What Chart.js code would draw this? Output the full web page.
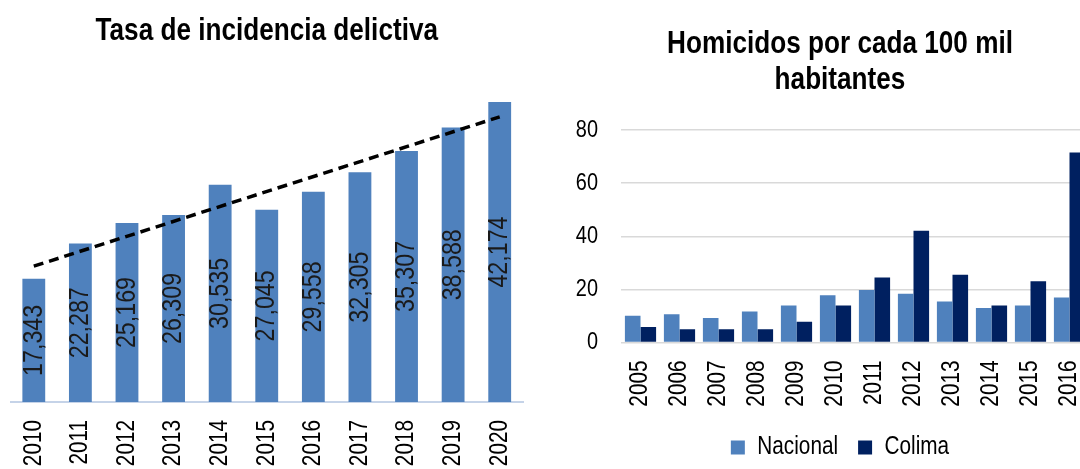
<!DOCTYPE html>
<html lang="es">
<head>
<meta charset="utf-8">
<title>Incidencia delictiva y homicidios</title>
<script src="https://cdn.jsdelivr.net/npm/chart.js@4.4.1/dist/chart.umd.min.js"></script>
<style>
  html, body { margin: 0; padding: 0; background: #fff; overflow: hidden; }
  #wrap { position: relative; width: 1080px; height: 469px; overflow: hidden; }
  #incidencia { position: absolute; left: 0; top: 0; }
  #homicidios { position: absolute; left: 555px; top: 0; }
</style>
</head>
<body>
<div id="wrap">
  <canvas id="incidencia" width="536" height="469"></canvas>
  <canvas id="homicidios" width="570" height="470"></canvas>
</div>
<script>
// Tasa de incidencia delictiva (por cada 100 mil habitantes)
const aniosIncidencia = ["2010", "2011", "2012", "2013", "2014", "2015", "2016", "2017", "2018", "2019", "2020"];
const incidencia = [17343, 22287, 25169, 26309, 30535, 27045, 29558, 32305, 35307, 38588, 42174];
// linea de tendencia: solo los extremos, el resto se une con spanGaps
const tendencia = [19100, null, null, null, null, null, null, null, null, null, 40100];

// Homicidios por cada 100 mil habitantes
const aniosHomicidios = ["2005", "2006", "2007", "2008", "2009", "2010", "2011", "2012", "2013", "2014", "2015", "2016"];
const nacional = [10.1, 10.6, 9.2, 11.7, 13.9, 17.8, 19.8, 18.4, 15.4, 13.0, 13.9, 16.9];
const colima = [5.8, 5.0, 5.0, 5.0, 7.8, 13.9, 24.5, 42.1, 25.5, 13.9, 23.1, 71.5];
const ticksHomicidios = [0, 20, 40, 60, 80];

const FUENTE = "'Liberation Sans', Arial, sans-serif";
Chart.defaults.font.family = FUENTE;
Chart.defaults.color = "#111";

// No hay Arial Narrow instalada: se comprime el texto en su propio eje
const ESTRECHO = 0.83;
function textoEstrecho(ctx) {
  const fill = ctx.fillText.bind(ctx);
  const measure = ctx.measureText.bind(ctx);
  ctx.fillText = function (text, x, y, maxWidth) {
    this.save();
    this.translate(x, y);
    this.scale(ESTRECHO, 1);
    if (maxWidth === undefined) fill(text, 0, 0);
    else fill(text, 0, 0, maxWidth / ESTRECHO);
    this.restore();
  };
  ctx.measureText = function (text) {
    const m = measure(text);
    return {
      width: m.width * ESTRECHO,
      actualBoundingBoxLeft: m.actualBoundingBoxLeft * ESTRECHO,
      actualBoundingBoxRight: m.actualBoundingBoxRight * ESTRECHO,
      actualBoundingBoxAscent: m.actualBoundingBoxAscent,
      actualBoundingBoxDescent: m.actualBoundingBoxDescent,
    };
  };
  return ctx;
}

// Sin relleno extra por las etiquetas de los extremos
function sinRelleno(scale) {
  scale.paddingLeft = 0;
  scale.paddingRight = 0;
}

// Valores girados 90 grados dentro de cada barra
const etiquetasVerticales = {
  id: "etiquetasVerticales",
  afterDatasetsDraw(chart) {
    const meta = chart.getDatasetMeta(0);
    const ctx = chart.ctx;
    ctx.save();
    ctx.font = "28px " + FUENTE;
    ctx.fillStyle = "#1a1a1a";
    ctx.textAlign = "center";
    ctx.textBaseline = "middle";
    meta.data.forEach((bar, i) => {
      ctx.save();
      ctx.translate(bar.x, (bar.y + bar.base) / 2);
      ctx.rotate(-Math.PI / 2);
      ctx.fillText(incidencia[i].toLocaleString("en-US"), 0, 0);
      ctx.restore();
    });
    ctx.restore();
  },
};

const ctxIncidencia = textoEstrecho(document.getElementById("incidencia").getContext("2d"));
new Chart(ctxIncidencia, {
  type: "bar",
  data: {
    labels: aniosIncidencia,
    datasets: [
      {
        type: "bar",
        data: incidencia,
        backgroundColor: "#4f81bd",
        categoryPercentage: 1,
        barPercentage: 0.49,
        order: 1,
      },
      {
        type: "line",
        data: tendencia,
        borderColor: "#000",
        borderWidth: 3.5,
        borderDash: [10, 6],
        pointRadius: 0,
        spanGaps: true,
        fill: false,
        order: 0,
      },
    ],
  },
  options: {
    responsive: false,
    animation: false,
    devicePixelRatio: 1,
    layout: { padding: { left: 10.5, right: 13, top: 0, bottom: 0 } },
    plugins: {
      legend: { display: false },
      tooltip: { enabled: false },
      title: {
        display: true,
        text: "Tasa de incidencia delictiva",
        color: "#000",
        font: { size: 31.5, weight: "bold", lineHeight: 1.2 },
        padding: { top: 12.2, bottom: 32 },
      },
    },
    scales: {
      x: {
        grid: { display: false, drawTicks: false },
        border: { display: true, color: "#c5d3e8", width: 2 },
        ticks: { maxRotation: 90, minRotation: 90, autoSkip: false, padding: 18, color: "#000", font: { size: 25 } },
        afterFit: (scale) => { scale.height = 67; sinRelleno(scale); },
      },
      y: { display: false, min: 0, max: 45000 },
    },
  },
  plugins: [etiquetasVerticales],
});

const ctxHomicidios = textoEstrecho(document.getElementById("homicidios").getContext("2d"));
new Chart(ctxHomicidios, {
  type: "bar",
  data: {
    labels: aniosHomicidios,
    datasets: [
      { label: "Nacional", data: nacional, backgroundColor: "#4f81bd", yAxisID: "y" },
      { label: "Colima", data: colima, backgroundColor: "#002060", yAxisID: "y" },
    ],
  },
  options: {
    responsive: false,
    animation: false,
    devicePixelRatio: 1,
    datasets: { bar: { categoryPercentage: 0.8, barPercentage: 1 } },
    layout: { padding: 0 },
    plugins: {
      tooltip: { enabled: false },
      title: {
        display: true,
        text: ["Homicidos por cada 100 mil", "habitantes"],
        color: "#000",
        font: { size: 31.5, weight: "bold", lineHeight: 1.17 },
        padding: { top: 25.5, bottom: 30.8 },
      },
      legend: {
        position: "bottom",
        labels: { boxWidth: 14, boxHeight: 14, padding: 20, color: "#000", font: { size: 25 } },
      },
    },
    scales: {
      x: {
        grid: { display: false, drawTicks: false },
        border: { display: false },
        ticks: { maxRotation: 90, minRotation: 90, autoSkip: false, padding: 18, color: "#000", font: { size: 25 } },
        afterFit: (scale) => { scale.height = 72.5; sinRelleno(scale); },
      },
      y: {
        position: "left",
        min: 0,
        max: 80,
        grid: { color: "#d9d9d9", lineWidth: 1.5, drawTicks: false },
        border: { display: false },
        ticks: { padding: 23, color: "#000", font: { size: 24 } },
        afterBuildTicks: (scale) => { scale.ticks = ticksHomicidios.map((v) => ({ value: v })); },
        afterFit: (scale) => { scale.width = 66; },
      },
      // eje derecho vacio: reserva el margen donde sigue la serie
      margen: {
        axis: "y",
        position: "right",
        min: 0,
        max: 80,
        grid: { display: false, drawTicks: false },
        border: { display: false },
        ticks: { display: false },
        afterFit: (scale) => { scale.width = 36; },
      },
    },
  },
});
</script>
</body>
</html>
